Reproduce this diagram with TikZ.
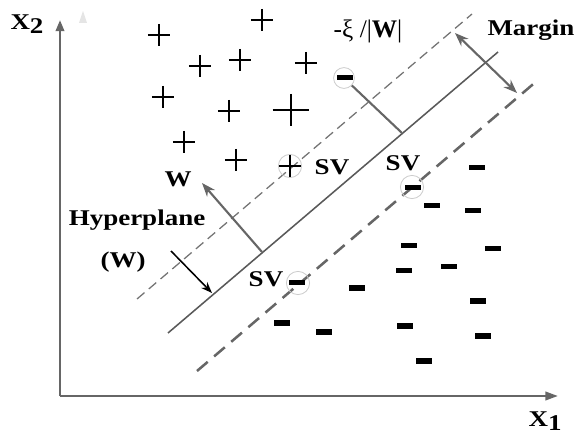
\documentclass[tikz,border=0pt]{standalone}
\usepackage{fontspec}
\setmainfont{Liberation Serif}
\usetikzlibrary{arrows.meta}

\begin{document}
\begin{tikzpicture}[
    x=0.025cm, y=-0.025cm,
    >=Stealth,
    axis/.style={draw=black!60, line width=1.8pt},
    plus pt/.style={minimum size=0.55cm, inner sep=0pt, path picture={
        \draw[line width=2.1pt] (path picture bounding box.north) -- (path picture bounding box.south)
            (path picture bounding box.west) -- (path picture bounding box.east);}},
    minus pt/.style={fill=black, minimum width=0.4cm, minimum height=0.125cm, inner sep=0pt},
    sv ring/.style={circle, draw=black!20, line width=0.6pt, minimum size=0.58cm, inner sep=0pt},
    lbl/.style={font=\bfseries\fontsize{16}{18}\selectfont, inner sep=0pt, xscale=1.2, transform shape}
]
    \useasboundingbox (0,0) rectangle (580,439);

    % axes
    \coordinate (o) at (60,396);
    \coordinate (ytip) at (60,20);
    \coordinate (xtip) at (558,396);
    \draw[axis, -{Triangle[length=8pt, width=6pt]}] (o) -- (ytip);
    \draw[axis, -{Triangle[length=9pt, width=6pt]}] (o) -- (xtip);
    \node[lbl] (x2) at (27,24) {X\raisebox{-0.45ex}{2}};
    \node[lbl] (x1) at (545,421) {X\raisebox{-0.45ex}{1}};
    \fill[black!10] (79,23) -- (87,23) -- (83,11) -- cycle;

    % hyperplane and margins
    \coordinate (u1) at (137,299);
    \coordinate (u2) at (472,14);
    \coordinate (h1) at (168,333);
    \coordinate (h2) at (498,52);
    \coordinate (l1) at (197,371);
    \coordinate (l2) at (538,80);
    \draw[black!55, line width=0.9pt, dash pattern=on 7pt off 4pt] (u1) -- (u2);
    \draw[black!65, line width=1.1pt] (h1) -- (h2);
    \draw[black!60, line width=1.8pt, dash pattern=on 10pt off 6pt] (l1) -- (l2);

    % positive points
    \foreach \px/\py [count=\i] in {159/35, 262/20, 200/66, 240/60, 306/63,
        163/97, 229/111, 184/142, 236/160, 290/166}
        \node[plus pt] (p\i) at (\px,\py) {};
    \node[plus pt, minimum width=0.92cm, minimum height=0.8cm] (pbig) at (291,110) {};

    % negative points
    \foreach \mx/\my [count=\i] in {345/78, 413/188, 297/283, 477/168, 432/206,
        473/211, 409/246, 493/249, 404/271, 449/267, 357/288, 478/301,
        282/323, 405/326, 324/332, 483/336, 424/361}
        \node[minus pt] (m\i) at (\mx,\my) {};

    % support vectors
    \node[sv ring, minimum size=0.52cm] (r1) at (344,78) {};
    \node[sv ring] (r2) at (412,187) {};
    \node[sv ring] (r3) at (298,283) {};
    \node[sv ring] (r4) at (290,166) {};
    \node[lbl] (sv1) at (332,167) {SV};
    \node[lbl] (sv2) at (403,163) {SV};
    \node[lbl] (sv3) at (266,279) {SV};

    % normal vector, slack, margin
    \coordinate (wfoot) at (262,252);
    \coordinate (wtip) at (202,183);
    \coordinate (xifoot) at (402,133);
    \coordinate (mg1) at (455,33);
    \coordinate (mg2) at (517,93);
    \draw[->, black!60, line width=1.5pt] (wfoot) -- (wtip);
    \draw[black!60, line width=1.5pt] (r1) -- (xifoot);
    \draw[<->, black!60, line width=1.5pt] (mg1) -- (mg2);
    \node[lbl] (w) at (178,179) {W};
    \node[font=\fontsize{18}{20}\selectfont, inner sep=0pt] (xi) at (368,31) {-ξ /|\textbf{W}|};
    \node[lbl] (margin) at (531,30) {Margin};

    % hyperplane label
    \node[lbl] (hyp) at (137,220) {Hyperplane};
    \node[lbl] (hypw) at (123,262) {(W)};
    \coordinate (ha1) at (171,251);
    \coordinate (ha2) at (212,293);
    \draw[->, line width=1.1pt] (ha1) -- (ha2);
\end{tikzpicture}
\end{document}
